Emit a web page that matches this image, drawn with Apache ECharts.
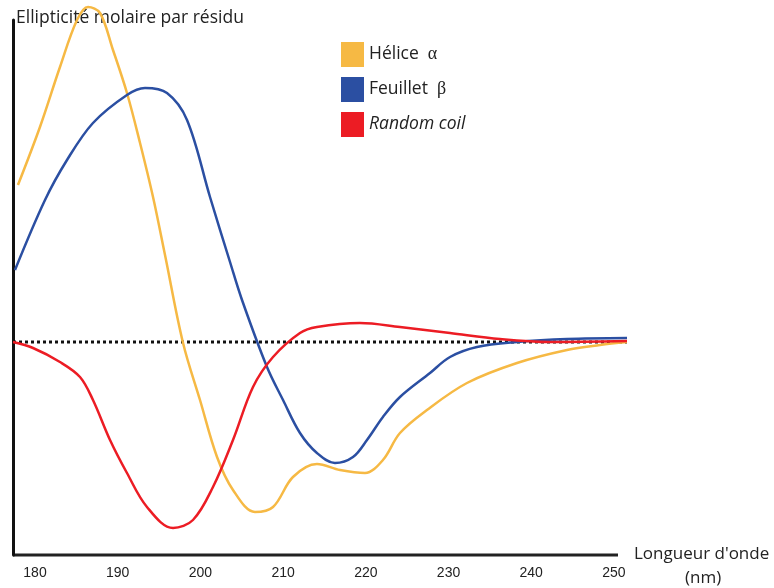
<!DOCTYPE html>
<html>
<head>
<meta charset="utf-8">
<script src="https://cdn.jsdelivr.net/npm/echarts@6/dist/echarts.min.js"></script>
<style>html,body{margin:0;padding:0;background:#fff}#c{width:774px;height:588px}</style>
</head>
<body>
<div id="c"></div>
<script>
// wavelength (nm) and molar ellipticity (arbitrary units, 0 = baseline)
const helixX = [177.94,180.60,183.02,185.08,186.41,187.86,189.43,191.12,192.70,194.27,195.72,197.90,199.95,202.01,203.94,206.60,208.78,211.19,214.09,216.88,219.90,222.07,224.13,227.39,232.23,238.28,244.32,248.31,251.58];
const helixY = [157,215,275,322,335,329,292,249,199,145,87,-1,-58,-115,-148,-170,-165,-135,-122,-128,-131,-118,-91,-68,-41,-21,-8,-3,0];
const sheetX = [177.58,181.21,183.87,187.01,191.12,193.30,195.96,198.38,201.16,203.58,205.03,208.05,209.99,212.04,214.09,216.27,218.45,220.14,222.07,224.13,227.76,230.18,233.44,238.28,244.32,251.58];
const sheetY = [72,142,182,219,247,254,249,222,145,80,42,-25,-58,-91,-111,-121,-115,-98,-75,-55,-31,-15,-5,0,3,4];
const coilX = [177.34,179.76,183.02,185.44,187.01,189.07,191.12,193.54,196.69,199.10,201.52,203.94,206.36,208.78,212.04,214.09,219.29,224.13,230.18,236.22,242.27,251.58];
const coilY = [0,-6,-20,-35,-58,-98,-131,-165,-186,-178,-145,-98,-45,-15,9,15,19,15,9,3,0,1];
const tickLabels = [180,190,200,210,220,230,240,250];
const seriesNames = ['Hélice α','Feuillet β','Random coil'];

const zip = (xs, ys) => xs.map((x, i) => [x, ys[i]]);
const font = '"Open Sans", sans-serif';
const chart = echarts.init(document.getElementById('c'));
chart.setOption({
  animation: false,
  grid: {left: 13, right: 147, top: 20, bottom: 33, containLabel: false},
  xAxis: {
    type: 'value', min: 177.34, max: 251.58,
    axisLine: {show: false},
    axisTick: {show: false},
    splitLine: {show: false},
    axisLabel: {customValues: tickLabels, color: '#222', fontSize: 14, margin: 11,
      fontFamily: '"Liberation Sans Narrow", "Liberation Sans", sans-serif'}
  },
  yAxis: {
    type: 'value', min: -213, max: 322,
    axisLine: {show: true, lineStyle: {color: '#111', width: 3}},
    axisTick: {show: false}, axisLabel: {show: false}, splitLine: {show: false}
  },
  legend: {
    orient: 'vertical', left: 336, top: 37, itemWidth: 23, itemHeight: 25, itemGap: 10,
    icon: 'rect', data: seriesNames,
    textStyle: {fontSize: 17.5, color: '#222', fontFamily: font,
      rich: {g: {fontSize: 18, fontFamily: '"Liberation Serif", serif', color: '#222'},
             i: {fontSize: 17.5, fontStyle: 'italic', fontFamily: font, color: '#222'}}},
    formatter: n => n === 'Random coil' ? '{i|Random coil}' : n.replace(/ (.)$/, '  {g|$1}')
  },
  graphic: [
    {type: 'line', shape: {x1: 13, y1: 555, x2: 618, y2: 555}, style: {stroke: '#222', lineWidth: 3}},
    {type: 'text', left: 16, top: 9, style: {text: 'Ellipticité molaire par résidu', fontSize: 17.5, fill: '#222', fontFamily: font}},
    {type: 'text', left: 634, top: 546, style: {text: "Longueur d'onde", fontSize: 17, fill: '#222', fontFamily: font}},
    {type: 'text', left: 685, top: 570, style: {text: '(nm)', fontSize: 17, fill: '#222', fontFamily: font}}
  ],
  series: [
    {type: 'line', name: 'baseline', data: [[177.34, 0], [251.58, 0]], symbol: 'none', clip: false, silent: true,
      lineStyle: {color: '#111', width: 3, type: [3, 3]}, z: 1},
    {type: 'line', name: seriesNames[0], data: zip(helixX, helixY), smooth: 0.35, symbol: 'none', clip: false,
      color: '#F6B944', lineStyle: {width: 2.5}},
    {type: 'line', name: seriesNames[1], data: zip(sheetX, sheetY), smooth: 0.35, symbol: 'none', clip: false,
      color: '#2B4FA2', lineStyle: {width: 2.5}},
    {type: 'line', name: seriesNames[2], data: zip(coilX, coilY), smooth: 0.35, symbol: 'none', clip: false,
      color: '#EC1C24', lineStyle: {width: 2.5}}
  ]
});
</script>
</body>
</html>
